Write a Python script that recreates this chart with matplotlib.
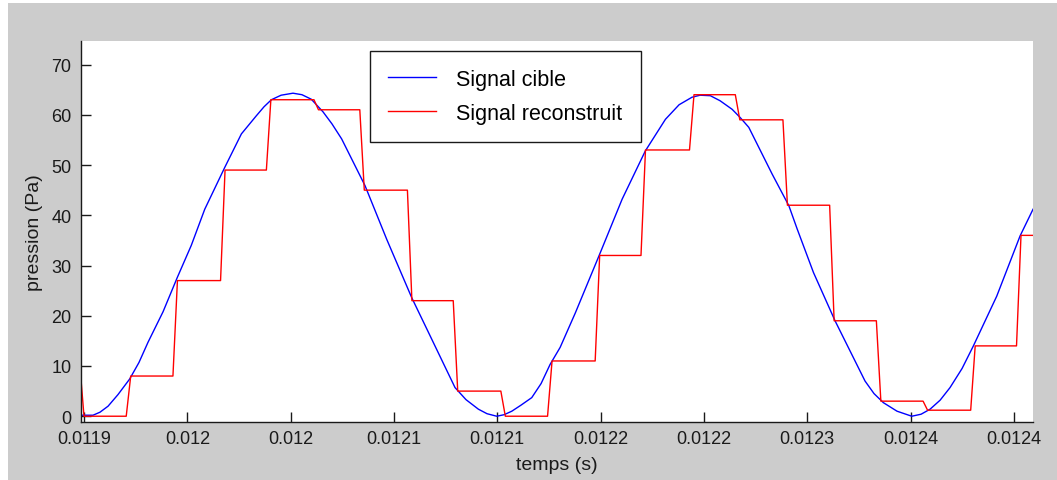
import matplotlib
matplotlib.use("Agg")
import matplotlib.pyplot as plt
import numpy as np
from matplotlib.patches import Rectangle

plt.rcParams['font.family'] = ['Liberation Sans', 'DejaVu Sans']

# time origin of the window (s); readings below are offsets in microseconds
T_START = 0.0119

# target signal (blue)
cible_t_us = [-1.5, 5.0, 8.9, 13.4, 18.9, 25.4, 30.6, 35.6, 44.0, 51.9, 59.7, 67.2,
              78.3, 87.6, 95.9, 100.2, 104.3, 109.7, 116.3, 121.3, 126.5, 133.0,
              138.0, 143.4, 156.4, 168.5, 182.4, 191.7, 206.5, 212.6, 219.5, 224.3,
              229.7, 233.8, 238.1, 243.2, 249.2, 254.4, 259.4, 265.0, 273.5, 287.4,
              299.5, 312.4, 323.6, 331.2, 338.4, 342.9, 348.6, 354.0, 360.7, 365.1,
              370.0, 383.0, 392.3, 396.9, 406.0, 418.0, 434.7, 439.7, 444.9, 452.5,
              460.7, 465.9, 470.9, 476.5, 482.0, 488.7, 495.0, 508.0, 521.0, 528.2]
cible_p = [0.2, 0.2, 0.8, 2.0, 4.3, 7.4, 10.7, 14.7, 20.8, 27.6, 34.0, 41.2,
           49.5, 56.2, 59.8, 61.6, 63.0, 63.9, 64.3, 64.0, 63.1, 60.6,
           58.2, 55.2, 45.9, 35.2, 23.6, 16.7, 5.7, 3.3, 1.4, 0.5,
           0.0, 0.3, 1.0, 2.2, 3.7, 6.5, 10.3, 13.7, 20.6, 32.6,
           43.2, 52.8, 59.1, 62.0, 63.5, 63.9, 63.8, 62.8, 61.1, 59.5,
           57.5, 48.2, 41.9, 37.3, 28.6, 19.0, 7.0, 4.5, 2.7, 1.0,
           0.0, 0.4, 1.4, 3.2, 5.7, 9.5, 14.0, 23.9, 35.9, 41.2]

# reconstructed signal (red): level held between update instants
reco_start_level = 11
reco_t_us = [-2.5, 23.5, 49.5, 76.0, 101.5, 128.0, 153.5, 180.0, 205.5, 232.0, 258.0,
             284.5, 310.0, 337.0, 362.5, 389.0, 415.0, 441.0, 467.0, 493.5, 519.0]
reco_levels = [0, 8, 27, 49, 63, 61, 45, 23, 5, 0, 11,
               32, 53, 64, 59, 42, 19, 3, 1.2, 14, 36]
rise_us = 2.5

x_ticks = [0.0119, 0.0119575, 0.012015, 0.0120725, 0.01213, 0.0121875,
           0.012245, 0.0123025, 0.01236, 0.0124175]
x_labels = ['0.0119', '0.012', '0.012', '0.0121', '0.0121', '0.0122',
            '0.0122', '0.0123', '0.0124', '0.0124']
y_ticks = [0, 10, 20, 30, 40, 50, 60, 70]

# build the staircase
rx, ry = [reco_t_us[0] - 10], [reco_start_level]
prev = reco_start_level
for t, v in zip(reco_t_us, reco_levels):
    rx += [t, t + rise_us]
    ry += [prev, v]
    prev = v
rx.append(540)
ry.append(prev)

tc = T_START + np.array(cible_t_us) * 1e-6
tr = T_START + np.array(rx) * 1e-6

W, H = 1057, 481
fig = plt.figure(figsize=(W / 100, H / 100), dpi=100, facecolor='white')
fig.add_artist(Rectangle((8 / W, 0), 1, 1 - 4 / H, transform=fig.transFigure,
                         facecolor='#cccccc', edgecolor='none', zorder=-5))
ax = fig.add_axes([81 / W, 1 - 423 / H, (1032.5 - 81) / W, (423 - 41.7) / H])
ax.set_facecolor('white')

ax.plot(tc, cible_p, color='#0000ff', lw=1.0, label='Signal cible')
ax.plot(tr, ry, color='#ff0000', lw=1.0, label='Signal reconstruit')

ax.set_xlim(T_START - 1.67e-6, T_START + 527.9e-6)
ax.set_ylim(-1.15, 74.75)
ax.set_xticks(x_ticks)
ax.set_xticklabels(x_labels)
ax.set_yticks(y_ticks)

for s in ['top', 'right']:
    ax.spines[s].set_visible(False)
for s in ['left', 'bottom']:
    ax.spines[s].set_color('#1a1a1a')
    ax.spines[s].set_linewidth(1.0)
ax.tick_params(direction='in', length=7.5, width=1.0, color='#1a1a1a',
               labelsize=13, labelcolor='#1a1a1a')
ax.tick_params(axis='x', pad=6)
ax.tick_params(axis='y', pad=7)

ax.set_xlabel('temps (s)', fontsize=14, color='#1a1a1a', labelpad=6)
ax.set_ylabel('pression (Pa)', fontsize=14, color='#1a1a1a', labelpad=6)

leg = ax.legend(loc='upper left', bbox_to_anchor=(370 / W, 1 - 51.7 / H),
                bbox_transform=fig.transFigure, fontsize=15.5, frameon=True,
                fancybox=False, edgecolor='#1a1a1a', framealpha=1,
                handlelength=2.2, handletextpad=0.95, borderpad=0.85,
                labelspacing=0.6, borderaxespad=0)
leg.get_frame().set_linewidth(1.0)

fig.savefig('out.png', dpi=100, facecolor=fig.get_facecolor())
